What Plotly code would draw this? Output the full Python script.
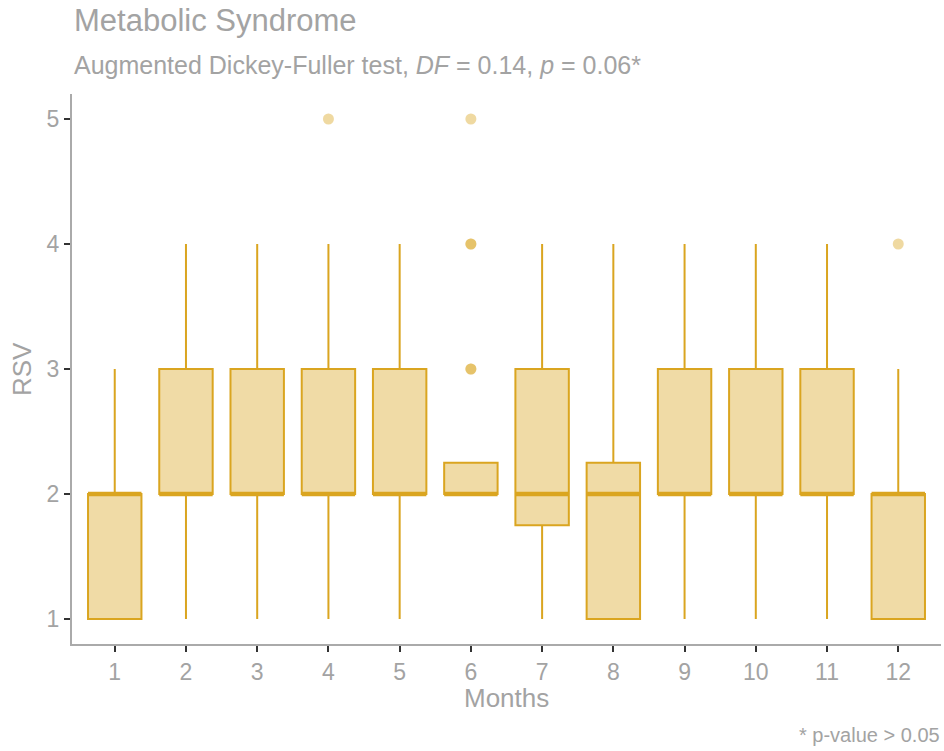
import plotly.graph_objects as go

months = [1, 2, 3, 4, 5, 6, 7, 8, 9, 10, 11, 12]
q1 = [1, 2, 2, 2, 2, 2, 1.75, 1, 2, 2, 2, 1]
median = [2, 2, 2, 2, 2, 2, 2, 2, 2, 2, 2, 2]
q3 = [2, 3, 3, 3, 3, 2.25, 3, 2.25, 3, 3, 3, 2]
lower = [1, 1, 1, 1, 1, 2, 1, 1, 1, 1, 1, 1]
upper = [3, 4, 4, 4, 4, 2, 4, 4, 4, 4, 4, 3]
outlier_month = [4, 6, 6, 6, 6, 6, 12]
outlier_value = [5, 5, 4, 4, 3, 3, 4]

gold = "#DAA520"
fill = "rgba(218,165,32,0.4)"
grey = "#A3A3A3"
font = "Liberation Sans"
half = 0.375

W, H = 944, 751
ML, MR, MT, MB = 72, 3, 94, 107
plot_h = H - MT - MB
plot_w = W - ML - MR

def py(pix):
    return (H - MB - pix) / plot_h

def px(pix):
    return (pix - ML) / plot_w

fig = go.Figure()
fig.add_trace(go.Box(
    x=months, q1=q1, median=median, q3=q3, lowerfence=lower, upperfence=upper,
    width=2 * half, whiskerwidth=0, fillcolor=fill,
    line=dict(color=gold, width=2), boxpoints=False, showlegend=False,
    hoverinfo="skip"))

# thicker median segments
mx, my = [], []
for m, md in zip(months, median):
    mx += [m - half, m + half, None]
    my += [md, md, None]
fig.add_trace(go.Scatter(x=mx, y=my, mode="lines",
                         line=dict(color=gold, width=4.5), showlegend=False,
                         hoverinfo="skip"))

fig.add_trace(go.Scatter(x=outlier_month, y=outlier_value, mode="markers",
                         marker=dict(color=gold, opacity=0.42, size=11,
                                     line=dict(width=0)),
                         showlegend=False))

axis_common = dict(showgrid=False, zeroline=False, showline=True,
                   linecolor="#AAAAAA", linewidth=2, ticks="outside",
                   ticklen=6, tickwidth=2, tickcolor="#333333",
                   tickfont=dict(size=23, color=grey))

fig.update_layout(
    width=W, height=H,
    margin=dict(l=ML, r=MR, t=MT, b=MB),
    paper_bgcolor="white", plot_bgcolor="white",
    font=dict(family=font, color=grey),
    xaxis=dict(range=[0.4, 12.6], tickvals=months,
               ticktext=[str(m) for m in months], **axis_common),
    yaxis=dict(range=[0.8, 5.2], tickvals=[1, 2, 3, 4, 5], **axis_common),
    annotations=[
        dict(text="Metabolic Syndrome", x=px(72), xref="paper", y=py(21),
             yref="paper", xanchor="left", yanchor="middle", showarrow=False,
             font=dict(size=31, color=grey)),
        dict(text="Augmented Dickey-Fuller test, <i>DF</i> = 0.14, <i>p</i> = 0.06*",
             x=px(72), xref="paper", y=py(65), yref="paper",
             xanchor="left", yanchor="middle", showarrow=False,
             font=dict(size=25, color=grey)),
        dict(text="Months", x=0.5, xref="paper", y=py(698), yref="paper",
             xanchor="center", yanchor="middle", showarrow=False,
             font=dict(size=26, color=grey)),
        dict(text="RSV", x=px(22), xref="paper", y=py(369), yref="paper",
             xanchor="center", yanchor="middle", showarrow=False, textangle=-90,
             font=dict(size=26, color=grey)),
        dict(text="* p-value > 0.05", x=px(942), xref="paper", y=py(735),
             yref="paper", xanchor="right", yanchor="middle", showarrow=False,
             font=dict(size=20, color=grey)),
    ],
)

fig.write_html("out.html")
